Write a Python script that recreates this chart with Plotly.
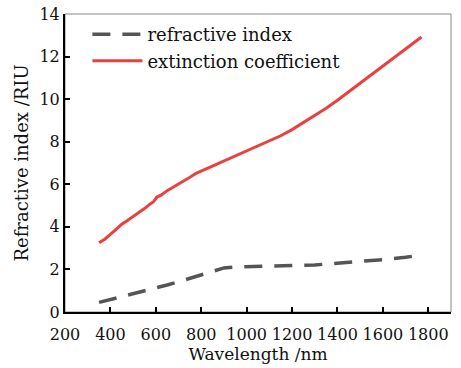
import plotly.graph_objects as go

wavelength_n = [350, 400, 450, 500, 550, 600, 650, 700, 750, 800, 850, 900, 950,
                1000, 1100, 1200, 1300, 1400, 1500, 1600, 1700, 1770]
refractive_index = [0.45, 0.58, 0.72, 0.86, 0.99, 1.12, 1.27, 1.42, 1.58, 1.75, 1.92,
                    2.07, 2.12, 2.14, 2.16, 2.18, 2.21, 2.28, 2.36, 2.46, 2.57, 2.68]

wavelength_k = [350, 375, 400, 425, 450, 475, 500, 525, 550, 575, 590, 605, 625, 650,
                675, 700, 725, 750, 775, 800, 850, 900, 950, 1000, 1050, 1100, 1150,
                1200, 1250, 1300, 1350, 1400, 1450, 1500, 1550, 1600, 1650, 1700, 1770]
extinction = [3.25, 3.42, 3.65, 3.9, 4.12, 4.3, 4.48, 4.66, 4.86, 5.08, 5.18, 5.4, 5.5,
              5.7, 5.85, 6.0, 6.18, 6.33, 6.5, 6.62, 6.85, 7.08, 7.3, 7.55, 7.78, 8.02,
              8.28, 8.57, 8.9, 9.22, 9.57, 9.95, 10.35, 10.75, 11.15, 11.55, 11.95,
              12.35, 12.92]

x_ticks = [200, 400, 600, 800, 1000, 1200, 1400, 1600, 1800]
y_ticks = [0, 2, 4, 6, 8, 10, 12, 14]

FONT = "DejaVu Serif"

fig = go.Figure()
fig.add_trace(go.Scatter(
    x=wavelength_n, y=refractive_index, mode="lines", name="refractive index",
    line=dict(color="#555555", width=3.5, dash="18px,12px"),
))
fig.add_trace(go.Scatter(
    x=wavelength_k, y=extinction, mode="lines", name="extinction coefficient",
    line=dict(color="#e8413f", width=3),
))

fig.add_shape(type="rect", xref="paper", yref="paper", x0=0, y0=0, x1=1, y1=1,
              line=dict(color="#888888", width=1), layer="below")

fig.update_layout(
    width=461, height=368,
    margin=dict(l=65, r=10, t=14, b=56, autoexpand=False),
    paper_bgcolor="white", plot_bgcolor="white",
    font=dict(family=FONT, size=17, color="#111111"),
    showlegend=True,
    legend=dict(x=0.058, y=0.993, xanchor="left", yanchor="top",
                bgcolor="rgba(0,0,0,0)", font=dict(size=18, family=FONT),
                tracegroupgap=0, itemwidth=50),
    xaxis=dict(range=[200, 1900], tickvals=x_ticks, ticktext=[str(v) for v in x_ticks],
               showline=True, linecolor="black", linewidth=2,
               ticks="inside", ticklen=5, tickwidth=2, tickcolor="black",
               showgrid=False, zeroline=False, automargin=False,
               ticklabelstandoff=7,
               tickfont=dict(size=16, family=FONT, color="#111111"),
               title=dict(text="Wavelength /nm", font=dict(size=17, family=FONT), standoff=2)),
    yaxis=dict(range=[0, 14], tickvals=y_ticks,
               showline=True, linecolor="black", linewidth=2,
               ticks="inside", ticklen=5, tickwidth=2, tickcolor="black",
               showgrid=False, zeroline=False, automargin=False,
               tickfont=dict(size=16, family=FONT, color="#111111"),
               title=dict(text="Refractive index /RIU", font=dict(size=18, family=FONT), standoff=6)),
)

fig.write_html("out.html", config={"displayModeBar": False},
               post_script="document.body.style.margin='0';document.body.style.overflow='hidden';")
